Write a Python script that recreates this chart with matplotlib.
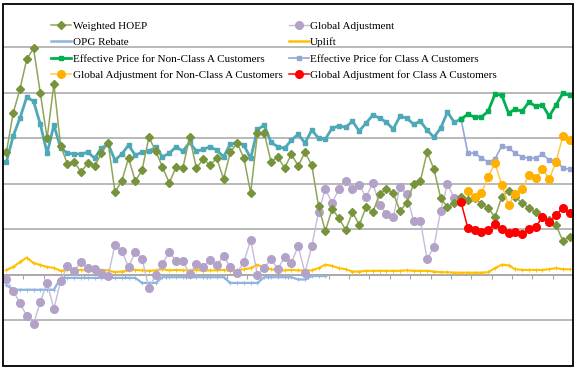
import numpy as np
import matplotlib.pyplot as plt
from matplotlib.lines import Line2D
from matplotlib.patches import Rectangle

# monthly index, 84 months
months = np.arange(84)

hoep = [5.39, 7.11, 8.16, 9.47, 9.96, 7.98, 6.01, 8.38, 5.66, 4.87,
        4.96, 4.52, 4.91, 4.78, 5.35, 5.79, 3.64, 4.12, 5.13, 4.12,
        4.61, 6.05, 5.44, 4.74, 4.04, 4.74, 4.69, 6.05, 4.69, 5.09,
        4.82, 5.13, 4.21, 5.39, 5.79, 5.13, 3.60, 6.23, 6.23, 4.96,
        5.18, 4.69, 5.31, 4.78, 5.39, 4.82, 3.03, 1.93, 2.89, 2.50,
        1.97, 2.76, 2.19, 2.98, 2.76, 3.55, 3.77, 3.60, 2.81, 3.16,
        3.99, 4.12, 5.39, 4.65, 3.38, 2.98, 3.16, 3.42, 3.29, 3.38,
        3.11, 2.94, 2.54, 3.42, 3.68, 3.42, 3.16, 2.94, 2.76, 2.54,
        2.41, 2.19, 1.49, 1.67]

global_adj = [-0.18, -0.70, -1.23, -1.80, -2.15, -1.18, -0.35, -1.49, -0.26, 0.39,
              0.18, 0.57, 0.31, 0.26, 0.09, -0.04, 1.32, 1.05, 0.35, 1.01,
              0.70, -0.57, 0.00, 0.48, 1.01, 0.61, 0.61, 0.04, 0.48, 0.35,
              0.66, 0.44, 0.83, 0.35, 0.09, 0.57, 1.54, 0.00, 0.31, 0.70,
              0.26, 0.79, 0.53, 1.27, 0.09, 1.27, 2.76, 3.77, 3.16, 3.77,
              4.12, 3.77, 3.95, 3.42, 4.04, 3.07, 2.68, 2.54, 3.86, 3.55,
              2.37, 2.37, 0.70, 1.23, 2.81, 3.99, 3.38]

opg_rebate = [-0.45, -0.65, -0.65, -0.65, -0.65, -0.65, -0.65, -0.65, -0.13, -0.13,
              -0.13, -0.13, -0.13, -0.13, -0.13, -0.13, -0.13, -0.13, -0.13, -0.13,
              -0.35, -0.35, -0.35, -0.10, -0.10, -0.10, -0.10, -0.10, -0.10, -0.10,
              -0.10, -0.10, -0.10, -0.35, -0.35, -0.35, -0.35, -0.35, -0.10, -0.10,
              -0.10, -0.10, -0.10, -0.20, -0.20, -0.05, -0.05, -0.05]

uplift = [0.22, 0.35, 0.57, 0.76, 0.52, 0.44, 0.35, 0.31, 0.18, 0.22,
          0.20, 0.22, 0.18, 0.20, 0.22, 0.20, 0.12, 0.15, 0.20, 0.22,
          0.20, 0.18, 0.20, 0.25, 0.20, 0.22, 0.20, 0.20, 0.22, 0.18,
          0.20, 0.20, 0.22, 0.18, 0.20, 0.25, 0.30, 0.45, 0.30, 0.25,
          0.20, 0.20, 0.22, 0.20, 0.20, 0.20, 0.30, 0.45, 0.40, 0.30,
          0.25, 0.15, 0.15, 0.18, 0.18, 0.18, 0.18, 0.18, 0.18, 0.20,
          0.18, 0.18, 0.18, 0.15, 0.12, 0.12, 0.10, 0.10, 0.10, 0.10,
          0.10, 0.12, 0.30, 0.45, 0.42, 0.25, 0.22, 0.22, 0.22, 0.22,
          0.25, 0.30, 0.25, 0.25]

# effective price before the Class A split (same for everybody)
eff_price_all = [4.96, 6.10, 6.89, 7.81, 7.63, 6.62, 5.35, 6.58, 5.57, 5.35,
                 5.31, 5.31, 5.39, 5.13, 5.57, 5.75, 5.04, 5.31, 5.70, 5.26,
                 5.39, 5.44, 5.60, 5.19, 5.34, 5.63, 5.44, 5.82, 5.44, 5.51,
                 5.63, 5.48, 5.19, 5.75, 5.80, 5.70, 5.12, 6.39, 6.58, 5.82,
                 5.63, 5.56, 5.92, 6.18, 5.79, 6.36, 6.01, 5.96, 6.45, 6.54,
                 6.49, 6.75, 6.32, 6.67, 7.02, 6.89, 6.71, 6.40, 6.97, 6.89,
                 6.62, 6.75, 6.36, 6.05, 6.45, 7.15, 6.71, 6.84]

eff_non_class_a = [6.84, 7.06, 6.93, 6.93, 7.19, 7.94, 7.89, 7.11, 7.28, 7.19,
                   7.59, 7.41, 7.46, 6.97, 7.46, 7.98, 7.89]
eff_class_a = [6.84, 5.35, 5.35, 5.13, 4.96, 5.09, 5.66, 5.57, 5.35, 5.18,
               5.13, 5.13, 5.31, 5.04, 5.04, 4.69, 4.65]
ga_non_class_a = [3.68, 3.42, 3.60, 4.30, 4.91, 3.95, 3.07, 3.55, 3.77, 4.39,
                  4.25, 4.65, 4.21, 4.96, 6.10, 5.92]
ga_class_a = [3.20, 2.06, 1.97, 1.89, 1.97, 2.24, 2.02, 1.84, 1.89, 1.80,
              2.02, 2.11, 2.54, 2.32, 2.63, 2.94, 2.72]

split_start = 67

fig = plt.figure(figsize=(5.79, 3.69), dpi=100)
ax = fig.add_axes([3 / 579, 3 / 369, 570 / 579, 362 / 369])

c_hoep = '#77933C'
c_ga = '#B3A2C7'
c_opg = '#8DB4E2'
c_uplift = '#FFC000'
c_teal = '#4FA8B8'
c_green = '#00B050'
c_classa = '#95A6D6'
c_orange = '#FFB000'
c_red = '#FF0000'

x_opg = months[:len(opg_rebate)]
x_ga = months[:len(global_adj)]
x_all = months[:len(eff_price_all)]
x_split = months[split_start:]
x_ga_non = months[84 - len(ga_non_class_a):]

ax.plot(x_opg, opg_rebate, color=c_opg, lw=1.6, marker='+', ms=2.5, mew=0.6, zorder=3)
ax.plot(months, uplift, color=c_uplift, lw=1.5, marker='+', ms=3, mew=0.7, zorder=3)
ax.plot(x_ga, global_adj, color='#C7BBDA', lw=1, marker='o', ms=5.5, mfc=c_ga, mec=c_ga, zorder=4)
ax.plot(x_all, eff_price_all, color=c_teal, lw=2, marker='s', ms=3.5, zorder=4)
ax.plot(months, hoep, color='#8FA65A', lw=1.1, marker='D', ms=4.3, mfc=c_hoep, mec=c_hoep, zorder=5)
ax.plot(x_split, eff_class_a, color=c_classa, lw=1.2, marker='s', ms=2.8, zorder=5)
ax.plot(x_split, eff_non_class_a, color=c_green, lw=2, marker='s', ms=3.5, zorder=5)
ax.plot(x_ga_non, ga_non_class_a, color='#FFC84A', lw=1.1, marker='o', ms=5.5,
        mfc=c_orange, mec=c_orange, zorder=6)
ax.plot(x_split, ga_class_a, color=c_red, lw=1.1, marker='o', ms=5.5, zorder=6)

ax.set_xlim(-0.4, 83.5)
ax.set_ylim(-4, 11.9)
ax.set_yticks(np.arange(-4, 12, 2))
ax.yaxis.grid(True, color='#A6A6A6', lw=1.1)
ax.set_axisbelow(True)
ax.tick_params(axis='y', length=0, labelleft=False)

ax.set_xticks(np.arange(-0.5, 84, 3))
ax.tick_params(axis='x', direction='out', length=3, color='#A6A6A6', labelbottom=False)
for s in ['left', 'right', 'top']:
    ax.spines[s].set_visible(False)
ax.spines['bottom'].set_position(('data', 0))
ax.spines['bottom'].set_color('#A6A6A6')
ax.spines['bottom'].set_linewidth(1.1)
ax.add_patch(Rectangle((0, 0), 1, 1, transform=ax.transAxes, fill=False,
                       edgecolor='black', lw=1.3, clip_on=False, zorder=10))

handles = [
    Line2D([], [], color='#8FA65A', lw=1.1, marker='D', ms=4.3, mfc=c_hoep, mec=c_hoep),
    Line2D([], [], color='#C7BBDA', lw=1, marker='o', ms=5.5, mfc=c_ga, mec=c_ga),
    Line2D([], [], color=c_opg, lw=1.8),
    Line2D([], [], color=c_uplift, lw=1.8),
    Line2D([], [], color=c_green, lw=2, marker='s', ms=3.5),
    Line2D([], [], color=c_classa, lw=1.2, marker='s', ms=2.8),
    Line2D([], [], color='#FFC84A', lw=1.1, marker='o', ms=5.5, mfc=c_orange, mec=c_orange),
    Line2D([], [], color=c_red, lw=1.1, marker='o', ms=5.5),
]
labels = ['Weighted HOEP', 'Global Adjustment',
          'OPG Rebate', 'Uplift',
          'Effective Price for Non-Class A Customers', 'Effective Price for Class A Customers',
          'Global Adjustment for Non-Class A Customers', 'Global Adjustment for Class A Customers']
# order so that ncol=2 fills row by row
order = [0, 2, 4, 6, 1, 3, 5, 7]
ax.legend([handles[i] for i in order], [labels[i] for i in order], ncol=2,
          loc='upper left', bbox_to_anchor=(51 / 579, 1 - 21 / 369), bbox_transform=fig.transFigure,
          frameon=False, prop={'family': 'Liberation Serif', 'size': 8},
          handlelength=1.8, handletextpad=0.15, columnspacing=0.55,
          labelspacing=0.6, borderpad=0, borderaxespad=0)

fig.savefig('out.png', dpi=100)
